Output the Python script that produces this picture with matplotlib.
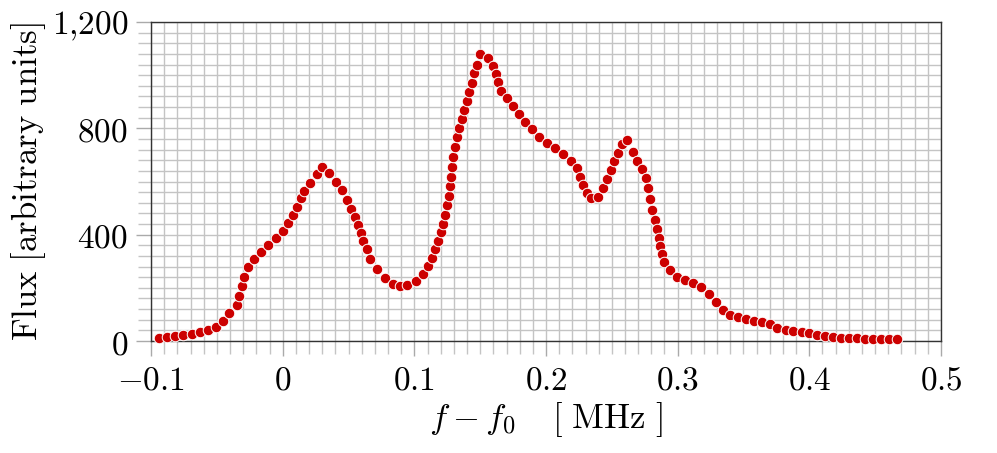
import matplotlib
matplotlib.use('Agg')
import matplotlib.pyplot as plt
from matplotlib.ticker import MultipleLocator

# Data
freq = [-0.0937, -0.0876, -0.0815, -0.0755, -0.069, -0.0628, -0.057, -0.0506, -0.0456, -0.0405,
        -0.0349, -0.0329, -0.0311, -0.0294, -0.0261, -0.0215, -0.0167, -0.0114, -0.0053, 0.0000,
        0.0043, 0.0076, 0.0107, 0.0137, 0.0164, 0.0208, 0.0258, 0.0299, 0.0354, 0.0405,
        0.0448, 0.0491, 0.0519, 0.0549, 0.0575, 0.0593, 0.0613, 0.0638, 0.0663, 0.0719,
        0.0777, 0.0836, 0.0891, 0.0947, 0.1010, 0.1066, 0.1106, 0.1132, 0.1156, 0.1180,
        0.1200, 0.1220, 0.1235, 0.1250, 0.1263, 0.1271, 0.1278, 0.1286, 0.1296, 0.1307,
        0.1322, 0.1339, 0.1360, 0.1380, 0.1398, 0.1415, 0.1436, 0.1456, 0.1474, 0.1499,
        0.1557, 0.1600, 0.1620, 0.1638, 0.1658, 0.1702, 0.1747, 0.1795, 0.1841, 0.1896,
        0.1949, 0.2010, 0.2071, 0.2131, 0.2188, 0.2233, 0.2258, 0.2283, 0.2309, 0.2340,
        0.2397, 0.2436, 0.2461, 0.2491, 0.2519, 0.2549, 0.2580, 0.2618, 0.2663, 0.2694,
        0.2727, 0.2757, 0.2771, 0.2788, 0.2806, 0.2825, 0.2843, 0.2855, 0.2868, 0.2881,
        0.2897, 0.2942, 0.2993, 0.3053, 0.3115, 0.3179, 0.3235, 0.3291, 0.3342, 0.3397,
        0.3456, 0.3519, 0.3580, 0.3643, 0.3701, 0.3757, 0.3820, 0.3878, 0.3942, 0.4000,
        0.4061, 0.4121, 0.4182, 0.4243, 0.4304, 0.4364, 0.4425, 0.4486, 0.4542, 0.4603,
        0.4663]
flux = [10, 14, 18, 21, 26, 33, 41, 51, 75, 104,
        135, 170, 207, 242, 277, 307, 336, 361, 386, 415,
        445, 474, 505, 537, 565, 596, 627, 653, 631, 599,
        568, 530, 495, 465, 436, 407, 376, 345, 308, 270,
        236, 213, 206, 210, 227, 252, 281, 312, 345, 377,
        409, 440, 474, 512, 547, 583, 618, 656, 693, 731,
        766, 800, 834, 869, 903, 938, 972, 1007, 1038, 1080,
        1063, 1035, 1004, 973, 940, 913, 884, 854, 825, 796,
        769, 746, 726, 703, 677, 650, 618, 587, 556, 537,
        543, 577, 609, 643, 677, 708, 740, 756, 712, 678,
        646, 612, 574, 534, 494, 457, 420, 388, 357, 327,
        297, 267, 242, 229, 219, 204, 178, 148, 117, 98,
        89, 82, 76, 70, 63, 48, 41, 38, 33, 29,
        23, 19, 15, 12, 11, 10, 9, 9, 8, 8,
        6]

x_ticks = [-0.1, 0.0, 0.1, 0.2, 0.3, 0.4, 0.5]
x_tick_labels = [r'$-0.1$', r'$0$', r'$0.1$', r'$0.2$', r'$0.3$', r'$0.4$', r'$0.5$']
y_ticks = [0, 400, 800, 1200]
y_tick_labels = [r'$0$', r'$400$', r'$800$', r'$1{,}200$']

plt.rcParams['mathtext.fontset'] = 'cm'

fig = plt.figure(figsize=(9.97, 4.53), dpi=100)
ax = fig.add_axes([0.1515, 0.2472, 0.7923, 0.7042])

ax.plot(freq, flux, 'o', color='#cc0000', markeredgecolor='white', markeredgewidth=0.7,
        markersize=7.6, clip_on=False, zorder=5)

ax.set_xlim(-0.1, 0.5)
ax.set_ylim(0, 1200)
ax.set_xticks(x_ticks)
ax.set_xticklabels(x_tick_labels)
ax.set_yticks(y_ticks)
ax.set_yticklabels(y_tick_labels)
ax.xaxis.set_minor_locator(MultipleLocator(0.01))
ax.yaxis.set_minor_locator(MultipleLocator(40))

grid_col = '#c4c4c4'
ax.grid(True, which='both', color=grid_col, linewidth=1.0, zorder=0)
ax.set_axisbelow(True)
ax.tick_params(axis='both', which='both', direction='out', color=grid_col,
               length=9.5, width=1.0, labelsize=24, pad=6)
ax.tick_params(axis='both', which='major', color='#aaaaaa', length=10.5)
for s in ax.spines.values():
    s.set_color('#333333')
    s.set_linewidth(1.0)

ax.set_ylabel(r'$\mathrm{Flux\ [arbitrary\ units]}$', fontsize=25)
ax.set_xlabel(r'$f - f_0\quad\, [\ \mathrm{MHz}\ ]$', fontsize=25)
ax.yaxis.set_label_coords(-0.13, 0.5)
ax.xaxis.set_label_coords(0.5, -0.185)

fig.savefig('out.png', dpi=100)
